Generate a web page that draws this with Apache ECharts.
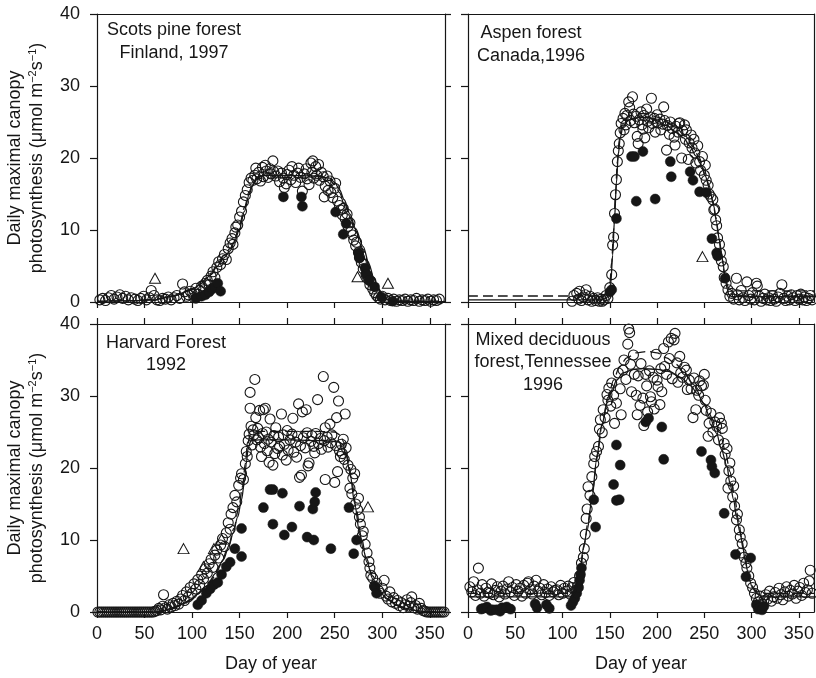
<!DOCTYPE html>
<html>
<head>
<meta charset="utf-8">
<script src="https://cdn.jsdelivr.net/npm/echarts@6/dist/echarts.min.js"></script>
<style>
  html, body { margin: 0; padding: 0; background: #ffffff; }
  #chart { width: 816px; height: 678px; }
</style>
</head>
<body>
<div id="chart"></div>
<script>
// ---- Axis ticks ----
const dayTicks = [0, 50, 100, 150, 200, 250, 300, 350];
const dayMax = 366;
const rateMax = 40;

// ---- Scots pine forest, Finland 1997 ----
const pineOpen = [[3,0.3],[6,0.5],[9,0.2],[12,0.6],[15,0.9],[18,0.4],[21,0.7],[24,1.0],[27,0.5],[30,0.8],[33,0.3],[36,0.6],[40,0.4],[43,0.2],[46,0.5],[49,0.8],[52,0.3],[55,0.6],[57,1.6],[60,0.9],[63,0.3],[66,0.2],[69,0.5],[72,0.4],[75,0.7],[78,0.3],[81,0.6],[84,0.9],[87,0.5],[90,2.5],[92,1.4],[94,0.8],[96,1.0],[98,1.5],[100,1.2],[102,0.6],[104,1.9],[106,1.1],[108,1.6],[110,2.2],[112,1.7],[114,2.6],[116,3.0],[118,2.4],[120,3.6],[122,4.2],[124,3.4],[126,4.8],[128,5.6],[130,5.2],[132,6.0],[134,6.6],[136,5.9],[138,7.4],[140,8.2],[142,8.8],[143,8.0],[145,9.6],[146,10.4],[148,10.7],[150,11.8],[152,12.6],[154,13.9],[156,14.8],[158,15.6],[160,16.6],[162,17.2],[164,16.9],[166,17.6],[167,18.6],[168,17.1],[170,18.0],[172,16.8],[174,18.7],[175,17.4],[177,19.0],[178,18.2],[180,17.3],[182,18.5],[183,17.8],[185,19.6],[186,18.1],[188,17.5],[190,18.2],[192,16.7],[194,17.9],[196,17.2],[197,15.9],[199,16.4],[200,17.7],[202,18.3],[204,17.0],[205,18.8],[207,17.6],[209,16.6],[211,17.9],[212,18.6],[214,17.3],[216,15.4],[218,17.8],[220,18.5],[221,17.1],[223,16.3],[225,19.3],[226,18.0],[227,19.6],[228,17.2],[230,18.8],[231,17.6],[233,19.1],[234,16.9],[236,18.0],[238,17.4],[239,14.6],[240,16.1],[242,17.5],[243,15.5],[245,16.8],[246,15.2],[248,14.5],[250,15.8],[251,16.5],[253,14.0],[255,13.4],[256,12.8],[258,12.1],[259,13.0],[261,11.6],[263,12.2],[264,10.5],[266,11.0],[267,9.8],[269,9.3],[270,8.6],[272,7.8],[273,8.3],[275,6.9],[276,6.2],[278,5.5],[280,4.6],[281,5.2],[283,3.8],[285,3.2],[287,2.4],[288,2.9],[290,1.8],[292,1.3],[294,0.9],[296,0.6],[298,0.4],[300,0.8],[303,0.3],[306,0.5],[309,0.2],[312,0.4],[315,0.1],[318,0.3],[321,0.2],[324,0.4],[327,0.1],[330,0.3],[333,0.2],[336,0.5],[339,0.1],[342,0.3],[345,0.2],[348,0.4],[351,0.1],[354,0.3],[357,0.2],[360,0.4]];
const pineFilled = [[104,0.5],[110,0.8],[114,1.0],[118,1.4],[121,1.8],[124,2.1],[127,2.6],[130,1.5],[196,14.6],[215,14.6],[216,13.3],[251,12.5],[259,9.4],[262,10.9],[275,6.8],[276,6.1],[282,4.7],[283,3.9],[286,3.0],[292,2.1],[299,0.7],[311,0.1]];
const pineTriangles = [[61,3.3],[274,3.5],[306,2.6]];
const pineFitSolid = [[0,0.1],[40,0.2],[60,0.3],[80,0.8],[100,1.7],[110,2.6],[120,3.8],[126,4.9],[133,6.1],[140,7.1],[145,8.5],[150,10.2],[155,12.6],[160,14.9],[164,16.3],[168,17.3],[175,17.6],[200,17.6],[230,17.5],[245,17.2],[250,16.6],[255,15.6],[260,14.2],[266,12.2],[272,10.2],[280,7.7],[286,5.3],[291,3.4],[296,1.9],[301,0.8],[306,0.3],[315,0.1],[366,0.05]];
const pineFitDashed = [[0,0.1],[40,0.2],[60,0.35],[80,0.9],[100,1.8],[110,2.8],[120,4.0],[126,5.1],[133,6.4],[140,7.4],[145,8.9],[150,10.7],[155,13.1],[160,15.3],[164,16.5],[168,17.1],[175,17.2],[200,17.3],[230,17.2],[245,16.9],[250,16.3],[255,15.2],[260,13.8],[266,11.8],[272,9.8],[280,7.3],[286,5.0],[291,3.2],[296,1.8],[301,0.8],[306,0.35],[315,0.15],[366,0.1]];

// ---- Aspen forest, Canada 1996 ----
const aspenOpen = [[110,0.1],[112,0.9],[115,1.2],[117,0.4],[118,1.5],[120,0.2],[122,0.7],[124,1.0],[125,1.7],[127,0.3],[129,0.8],[131,0.1],[133,0.5],[135,0.2],[137,0.6],[139,0.1],[141,0.4],[142,0.1],[144,0.3],[146,0.9],[148,0.5],[150,2.0],[152,3.8],[153,7.9],[154,9.0],[155,12.3],[156,14.9],[157,17.0],[158,19.5],[159,21.0],[160,22.0],[161,23.5],[162,24.8],[164,25.5],[165,23.9],[166,26.2],[167,24.6],[168,25.9],[170,27.8],[171,27.0],[172,25.2],[174,28.5],[175,26.1],[176,24.9],[178,25.8],[179,23.0],[180,22.0],[181,25.3],[183,26.4],[184,24.6],[185,24.0],[186,25.9],[187,22.8],[189,26.8],[190,25.1],[191,24.2],[193,25.7],[194,28.3],[195,24.8],[197,25.5],[198,23.6],[200,26.0],[201,24.9],[203,25.4],[204,23.9],[206,24.7],[207,27.1],[208,25.2],[210,21.1],[211,24.5],[213,23.3],[214,25.0],[216,24.1],[218,22.9],[219,21.8],[220,24.4],[222,23.6],[223,24.8],[224,24.9],[226,20.0],[227,23.8],[229,24.6],[230,22.6],[231,23.9],[233,19.8],[234,22.1],[236,23.2],[237,21.4],[239,22.6],[240,20.7],[241,19.3],[243,21.7],[245,19.5],[246,18.3],[248,20.2],[250,17.6],[251,19.0],[252,16.9],[254,16.2],[255,15.0],[257,14.6],[259,14.2],[260,12.8],[261,12.9],[262,11.4],[263,10.6],[264,8.9],[266,8.0],[267,6.8],[268,5.7],[270,4.9],[271,3.4],[273,2.6],[275,1.7],[277,0.8],[279,1.2],[281,0.4],[284,3.3],[285,1.0],[287,0.3],[289,1.6],[291,0.6],[293,0.2],[295,2.8],[297,0.9],[299,0.4],[301,1.3],[303,0.3],[305,2.6],[306,2.2],[308,0.8],[310,0.1],[312,0.5],[314,1.1],[316,0.3],[318,0.6],[320,0.2],[322,0.9],[324,0.4],[326,0.1],[328,0.7],[330,1.2],[332,2.4],[334,0.5],[336,0.2],[338,0.8],[340,0.3],[342,1.0],[344,0.6],[346,0.2],[348,0.9],[350,0.4],[352,1.1],[354,0.3],[356,0.7],[358,0.2],[360,0.5],[362,0.9],[364,0.3]];
const aspenFilled = [[150,1.4],[152,1.7],[157,11.6],[173,20.2],[176,20.2],[178,14.0],[185,20.9],[198,14.3],[214,19.5],[215,17.4],[235,18.1],[238,16.9],[245,15.3],[252,15.2],[258,8.8],[263,6.8],[264,6.4],[272,3.3]];
const aspenTriangles = [[248,6.3]];
const aspenFitSolid = [[0,0.3],[140,0.3],[146,0.5],[149,1.0],[151,2.5],[153,6.5],[155,11.5],[157,16.5],[159,20.5],[161,22.8],[164,24.4],[170,25.3],[180,25.6],[190,25.6],[200,25.2],[210,24.5],[220,23.6],[228,22.8],[235,21.6],[241,20.3],[246,19.2],[251,17.5],[256,15.5],[260,13.3],[263,11.0],[266,8.5],[269,6.0],[272,3.5],[274,1.9],[276,1.0],[279,0.75],[366,0.75]];
const aspenFitDashed = [[0,0.83],[140,0.83],[147,1.2],[150,2.5],[152,5.5],[154,10.0],[156,15.0],[158,19.5],[160,22.5],[163,24.6],[170,25.8],[180,26.2],[190,26.1],[200,25.7],[210,25.0],[220,24.2],[230,23.0],[238,21.6],[244,20.2],[250,18.3],[255,16.2],[259,14.0],[262,11.8],[265,9.3],[268,6.6],[271,4.2],[273,2.8],[276,1.8],[280,1.55],[366,1.55]];

// ---- Harvard Forest 1992 ----
const harvardOpen = [[1,0],[3,0],[5,0],[7,0],[9,0],[11,0],[13,0],[15,0],[17,0],[19,0],[21,0],[23,0],[25,0],[27,0],[29,0],[31,0],[33,0],[35,0],[37,0],[39,0],[41,0],[43,0],[45,0],[47,0],[49,0],[51,0],[53,0],[55,0],[57,0],[59,0],[61,0.1],[63,0.2],[65,0.5],[67,0.3],[69,0.8],[70,2.4],[72,0.6],[74,0.4],[76,1.0],[78,0.7],[80,1.2],[82,0.9],[84,1.5],[86,1.1],[88,1.8],[90,2.3],[92,1.6],[94,2.8],[96,2.1],[98,3.4],[100,2.6],[102,3.9],[104,3.2],[106,4.5],[108,3.8],[110,5.2],[112,4.6],[114,6.0],[116,5.4],[118,6.7],[120,7.3],[122,6.2],[124,7.9],[126,8.6],[128,7.5],[130,9.3],[132,10.2],[134,9.1],[136,11.0],[138,12.4],[140,11.5],[141,13.6],[143,14.5],[145,16.2],[147,15.3],[149,17.6],[151,18.6],[152,19.2],[154,18.4],[156,20.6],[157,22.3],[158,21.6],[159,23.8],[160,24.7],[161,30.5],[161,28.3],[162,25.8],[163,23.2],[164,25.3],[165,24.6],[166,32.3],[167,27.0],[168,23.9],[169,25.5],[170,24.2],[171,28.0],[172,22.9],[173,21.6],[174,24.8],[175,28.1],[176,23.4],[177,28.3],[178,25.0],[179,22.4],[180,24.0],[181,20.8],[182,26.8],[183,23.6],[185,20.4],[186,24.5],[187,22.0],[188,25.6],[190,22.7],[191,24.3],[192,23.0],[194,27.5],[195,21.8],[196,24.6],[197,23.3],[199,21.1],[200,25.2],[201,22.5],[203,23.9],[205,24.7],[206,26.9],[207,22.2],[209,23.6],[210,21.5],[211,24.4],[212,28.9],[213,18.7],[214,23.1],[215,19.0],[216,27.8],[217,24.2],[219,22.8],[220,28.1],[221,24.9],[222,20.3],[223,20.7],[225,23.7],[226,24.5],[228,23.0],[229,22.1],[230,24.8],[232,29.5],[233,23.4],[235,24.1],[236,22.6],[238,32.7],[239,23.8],[240,18.4],[240,25.6],[242,24.3],[243,22.9],[245,26.1],[246,23.5],[247,24.6],[249,31.2],[250,18.0],[251,23.1],[252,27.0],[253,19.5],[254,29.3],[255,22.4],[256,21.6],[257,23.3],[258,22.0],[259,24.0],[260,21.2],[261,27.5],[262,22.8],[264,20.4],[266,17.2],[267,19.8],[268,16.4],[269,18.6],[271,19.2],[272,15.0],[274,14.2],[275,15.8],[276,13.2],[277,12.2],[279,10.6],[280,11.2],[282,9.4],[284,8.2],[286,7.0],[287,6.1],[288,5.1],[290,4.7],[292,3.6],[294,4.0],[296,3.0],[298,2.6],[300,3.3],[302,4.4],[304,2.2],[306,1.8],[308,2.8],[310,1.4],[312,2.0],[314,1.2],[316,1.6],[318,0.9],[320,1.3],[322,0.6],[324,1.0],[326,1.7],[328,0.8],[330,1.3],[331,2.1],[333,0.6],[335,0.9],[337,0.4],[339,1.2],[341,0.5],[343,0.2],[345,0.1],[347,0],[349,0],[351,0],[353,0],[355,0],[357,0],[359,0],[361,0],[363,0],[365,0]];
const harvardFilled = [[106,1.0],[110,1.6],[115,2.6],[119,3.2],[123,3.8],[127,4.1],[131,5.2],[136,6.3],[140,6.9],[145,8.8],[152,7.7],[152,11.6],[175,14.5],[182,17.0],[185,17.0],[195,16.5],[213,14.7],[227,14.3],[229,15.3],[230,16.6],[185,12.2],[197,10.7],[205,11.8],[221,10.4],[228,10.0],[246,8.8],[265,14.5],[270,8.1],[273,10.0],[292,3.5],[294,2.6]];
const harvardTriangles = [[91,8.8],[112,6.3],[123,8.8],[131,10.1],[285,14.6]];
const harvardFitSolid = [[0,0],[60,0],[70,0.2],[80,0.6],[90,1.1],[98,1.7],[106,2.5],[115,3.6],[125,5.4],[133,7.3],[139,9.3],[143,10.9],[148,13.2],[152,15.6],[155,18.0],[157,20.6],[159,22.8],[162,23.8],[170,23.9],[200,23.9],[240,23.8],[255,23.6],[259,23.2],[262,21.8],[266,19.3],[271,15.1],[276,11.1],[280,8.7],[284,6.9],[290,4.6],[297,2.9],[305,1.8],[315,1.0],[325,0.5],[335,0.2],[345,0.05],[366,0]];
const harvardFitDashed = [[0,0],[60,0],[70,0.15],[80,0.5],[90,1.0],[100,1.8],[110,2.9],[120,4.4],[130,6.6],[138,9.0],[144,11.6],[149,14.4],[153,17.4],[156,20.6],[158,23.0],[161,24.6],[166,25.1],[230,25.1],[250,25.0],[256,24.6],[260,23.5],[264,21.2],[268,18.0],[273,14.0],[278,10.4],[283,7.6],[290,5.0],[297,3.1],[305,1.9],[315,1.0],[325,0.5],[340,0.1],[366,0]];

// ---- Mixed deciduous forest, Tennessee 1996 ----
const tennOpen = [[2,3.5],[4,2.8],[6,4.2],[8,2.3],[10,3.1],[11,6.1],[13,2.6],[15,3.8],[17,2.2],[19,3.3],[21,2.7],[23,2.6],[25,3.9],[27,2.4],[29,3.0],[31,3.5],[33,2.1],[35,2.9],[37,3.6],[39,2.5],[41,3.2],[43,4.2],[45,2.8],[47,3.4],[49,2.3],[51,3.8],[53,2.9],[55,3.3],[57,2.2],[59,3.7],[61,2.6],[63,4.0],[64,4.2],[66,3.1],[68,2.5],[70,3.6],[72,4.4],[74,2.9],[76,3.3],[78,2.4],[80,3.8],[82,2.7],[84,3.2],[86,2.3],[88,3.5],[90,2.8],[92,3.0],[94,3.1],[96,2.4],[98,3.7],[100,2.6],[102,3.3],[104,2.9],[106,3.6],[108,2.5],[110,3.4],[112,4.1],[114,3.0],[116,3.6],[118,5.0],[120,6.8],[122,7.6],[123,8.8],[124,10.8],[125,13.0],[126,14.3],[127,17.4],[129,16.2],[131,18.8],[133,20.6],[134,21.6],[136,22.3],[138,23.0],[139,25.4],[140,26.7],[142,24.9],[143,28.1],[145,27.0],[147,30.2],[148,29.4],[149,31.1],[151,28.6],[152,31.8],[154,30.1],[155,26.2],[157,29.0],[159,33.2],[161,31.0],[162,27.4],[164,33.6],[165,35.0],[167,32.3],[169,37.2],[170,39.3],[171,38.8],[172,34.4],[173,30.6],[175,35.7],[176,33.0],[178,30.1],[179,27.4],[180,32.8],[182,28.7],[183,34.5],[185,29.7],[186,25.9],[188,33.0],[189,31.4],[190,27.8],[192,33.5],[193,29.9],[194,29.2],[196,32.6],[197,28.2],[199,35.8],[200,32.2],[201,31.3],[203,28.8],[204,33.8],[205,30.6],[207,36.6],[208,34.1],[210,33.0],[212,37.5],[213,35.2],[215,38.0],[216,32.4],[218,37.8],[219,38.7],[221,34.6],[222,31.9],[224,35.5],[225,33.2],[227,32.6],[229,34.0],[231,33.6],[232,30.9],[234,32.2],[236,31.0],[238,27.0],[239,32.5],[241,28.1],[242,30.8],[244,30.1],[245,32.1],[247,31.4],[249,31.5],[250,33.0],[251,29.4],[252,28.0],[254,24.4],[255,26.2],[257,27.6],[259,25.0],[261,26.4],[263,25.8],[265,23.9],[266,27.0],[268,26.2],[269,25.5],[271,23.4],[272,21.9],[274,22.7],[275,17.2],[276,19.6],[277,20.7],[278,18.2],[280,16.0],[281,17.5],[282,14.7],[284,12.8],[285,13.6],[287,11.4],[288,10.4],[289,8.2],[290,9.5],[292,7.6],[294,6.8],[295,6.1],[297,5.0],[299,4.0],[301,3.4],[303,2.6],[305,1.9],[307,1.4],[309,2.2],[311,1.1],[313,1.6],[315,2.4],[317,1.8],[319,2.9],[321,1.5],[323,2.1],[325,2.7],[327,1.9],[329,3.3],[331,2.4],[333,1.7],[335,2.8],[337,3.5],[339,2.2],[341,3.0],[343,2.5],[345,3.7],[347,1.9],[349,2.9],[351,3.4],[353,2.3],[355,4.0],[357,2.7],[359,3.1],[361,4.3],[362,5.8],[364,2.6]];
const tennFilled = [[14,0.4],[16,0.5],[20,0.7],[24,0.2],[26,0.3],[30,0.3],[34,0.1],[36,0.6],[41,0.7],[45,0.4],[71,1.1],[73,0.6],[83,1.0],[86,0.5],[109,0.9],[111,1.4],[113,1.9],[115,2.6],[117,3.4],[118,4.4],[119,5.2],[120,6.1],[133,15.6],[135,11.8],[154,17.7],[157,15.5],[157,23.2],[160,15.6],[161,20.4],[188,26.4],[191,26.9],[205,25.7],[207,21.2],[247,22.3],[257,21.1],[258,20.2],[261,19.3],[271,13.7],[283,8.0],[294,4.9],[299,7.5],[305,1.0],[307,0.4],[309,0.6],[311,0.3],[313,0.8]];
const tennTriangles = [];
const tennFitSolid = [[0,2.1],[110,2.1],[113,2.6],[118,5.5],[122,8.8],[126,11.3],[131,15.6],[136,21.1],[141,25.7],[148,29.4],[153,31.0],[157,32.2],[164,33.2],[175,33.7],[185,33.8],[200,33.7],[213,33.4],[225,32.6],[235,31.5],[243,30.3],[249,29.0],[256,27.0],[263,24.8],[268,22.6],[274,20.2],[277,17.9],[281,15.6],[284,13.2],[288,10.9],[291,8.8],[293,7.2],[296,5.6],[298,4.4],[300,3.6],[302,3.1],[306,2.5],[312,2.1],[366,2.1]];
const tennFitDashed = [[0,2.6],[110,2.6],[114,3.0],[119,6.0],[123,9.5],[127,12.5],[132,17.0],[137,22.0],[142,26.2],[148,29.8],[154,32.2],[160,34.0],[168,35.3],[178,36.0],[190,36.2],[200,36.0],[210,35.3],[220,34.4],[230,33.0],[240,31.2],[250,28.9],[260,26.6],[266,25.2],[272,22.5],[277,19.5],[282,16.0],[286,12.8],[290,9.8],[293,7.5],[296,5.6],[299,4.1],[302,3.3],[306,2.8],[312,2.6],[366,2.6]];

// ---- Panel captions ----
const pineCaption = ['Scots pine forest', 'Finland, 1997'];
const aspenCaption = ['Aspen forest', 'Canada,1996'];
const harvardCaption = ['Harvard Forest', '1992'];
const tennCaption = ['Mixed deciduous', 'forest,Tennessee', '1996'];

// ---- Layout & style ----
const FONT = '"Liberation Sans", Arial, Helvetica, sans-serif';
const INK = '#161616';
const PANEL_H = 288;

const panels = [
  { left: 97,  top: 14,  width: 348, row: 0, col: 0, open: pineOpen, filled: pineFilled, tri: pineTriangles, solid: pineFitSolid, dashed: pineFitDashed,
    caption: pineCaption, capX: 174, capY: [30, 53] },
  { left: 468, top: 14,  width: 346, row: 0, col: 1, open: aspenOpen, filled: aspenFilled, tri: aspenTriangles, solid: aspenFitSolid, dashed: aspenFitDashed,
    caption: aspenCaption, capX: 531, capY: [33, 56] },
  { left: 97,  top: 324, width: 348, row: 1, col: 0, open: harvardOpen, filled: harvardFilled, tri: harvardTriangles, solid: harvardFitSolid, dashed: harvardFitDashed,
    caption: harvardCaption, capX: 166, capY: [343, 365] },
  { left: 468, top: 324, width: 346, row: 1, col: 1, open: tennOpen, filled: tennFilled, tri: tennTriangles, solid: tennFitSolid, dashed: tennFitDashed,
    caption: tennCaption, capX: 543, capY: [340, 362, 385] }
];

const axisLine = { show: true, onZero: false, lineStyle: { color: INK, width: 1.2 } };
const tickStyle = { color: INK, width: 1.2 };
const labelFont = { fontFamily: FONT, fontSize: 18, color: INK };

const grids = [], xAxes = [], yAxes = [], series = [], graphics = [];

panels.forEach((p, i) => {
  grids.push({ left: p.left, top: p.top, width: p.width, height: PANEL_H, containLabel: false, outerBoundsMode: 'none' });

  // bottom axis (labelled on the lower row)
  xAxes.push({
    type: 'value', gridIndex: i, position: 'bottom', min: 0, max: dayMax, interval: 50,
    axisLine: axisLine,
    axisTick: { show: true, inside: false, length: 6, lineStyle: tickStyle, customValues: dayTicks },
    axisLabel: Object.assign({ show: p.row === 1, margin: 13, customValues: dayTicks }, labelFont),
    splitLine: { show: false },
    name: p.row === 1 ? 'Day of year' : '', nameLocation: 'middle', nameGap: 43,
    nameTextStyle: { fontFamily: FONT, fontSize: 18, color: INK }
  });
  // top frame (ticks outward on the lower row)
  xAxes.push({
    type: 'value', gridIndex: i, position: 'top', min: 0, max: dayMax, interval: 50,
    axisLine: axisLine,
    axisTick: { show: p.row === 1, inside: false, length: 6, lineStyle: tickStyle, customValues: dayTicks },
    axisLabel: { show: false }, splitLine: { show: false }
  });
  // left axis (labelled on the left column)
  yAxes.push({
    type: 'value', gridIndex: i, position: 'left', min: 0, max: rateMax, interval: 10,
    axisLine: axisLine,
    axisTick: { show: true, inside: false, length: 7, lineStyle: tickStyle },
    axisLabel: Object.assign({ show: p.col === 0, margin: 17 }, labelFont),
    splitLine: { show: false }
  });
  // right frame (ticks outward on the left column)
  yAxes.push({
    type: 'value', gridIndex: i, position: 'right', min: 0, max: rateMax, interval: 10,
    axisLine: axisLine,
    axisTick: { show: p.col === 0, inside: false, length: 6, lineStyle: tickStyle },
    axisLabel: { show: false }, splitLine: { show: false }
  });

  const ax = { xAxisIndex: 2 * i, yAxisIndex: 2 * i, silent: true, animation: false, emphasis: { disabled: true } };
  series.push(Object.assign({
    type: 'scatter', data: p.open, symbol: 'circle', symbolSize: 10, z: 2,
    itemStyle: { color: 'rgba(255,255,255,0)', borderColor: INK, borderWidth: 1.1, opacity: 1 }
  }, ax));
  series.push(Object.assign({
    type: 'scatter', data: p.filled, symbol: 'circle', symbolSize: 10, z: 3,
    itemStyle: { color: INK, borderColor: INK, borderWidth: 0.5, opacity: 1 }
  }, ax));
  series.push(Object.assign({
    type: 'scatter', data: p.tri, symbol: 'triangle', symbolSize: [11, 10], z: 4,
    itemStyle: { color: 'rgba(255,255,255,0)', borderColor: INK, borderWidth: 1, opacity: 1 }
  }, ax));
  series.push(Object.assign({
    type: 'line', data: p.solid, showSymbol: false, smooth: 0.3, smoothMonotone: 'x', z: 5,
    lineStyle: { color: INK, width: 1.3, type: 'solid' }
  }, ax));
  series.push(Object.assign({
    type: 'line', data: p.dashed, showSymbol: false, smooth: 0.3, smoothMonotone: 'x', z: 5,
    lineStyle: { color: INK, width: 1.3, type: [10, 5] }
  }, ax));

  p.caption.forEach((line, k) => {
    graphics.push({
      type: 'text', x: p.capX, y: p.capY[k], z: 10,
      style: { text: line, fill: INK, font: '18px ' + FONT, align: 'center', verticalAlign: 'middle' }
    });
  });
});

// y-axis titles, one pair per row
[158, 468].forEach(cy => {
  graphics.push({
    type: 'text', x: 15, y: cy, rotation: Math.PI / 2, z: 10,
    style: { text: 'Daily maximal canopy', fill: INK, font: '18px ' + FONT, align: 'center', verticalAlign: 'middle' }
  });
  graphics.push({
    type: 'text', x: 37, y: cy, rotation: Math.PI / 2, z: 10,
    style: {
      text: 'photosynthesis (μmol m{s|−2}s{s|−1})',
      fill: INK, font: '18px ' + FONT, align: 'center', verticalAlign: 'middle',
      rich: { s: { fontSize: 11, fontFamily: FONT, fill: INK, verticalAlign: 'top', lineHeight: 20 } }
    }
  });
});

const chart = echarts.init(document.getElementById('chart'), null, { renderer: 'canvas' });
chart.setOption({
  animation: false,
  backgroundColor: '#ffffff',
  grid: grids,
  xAxis: xAxes,
  yAxis: yAxes,
  series: series,
  graphic: graphics
});
</script>
</body>
</html>
